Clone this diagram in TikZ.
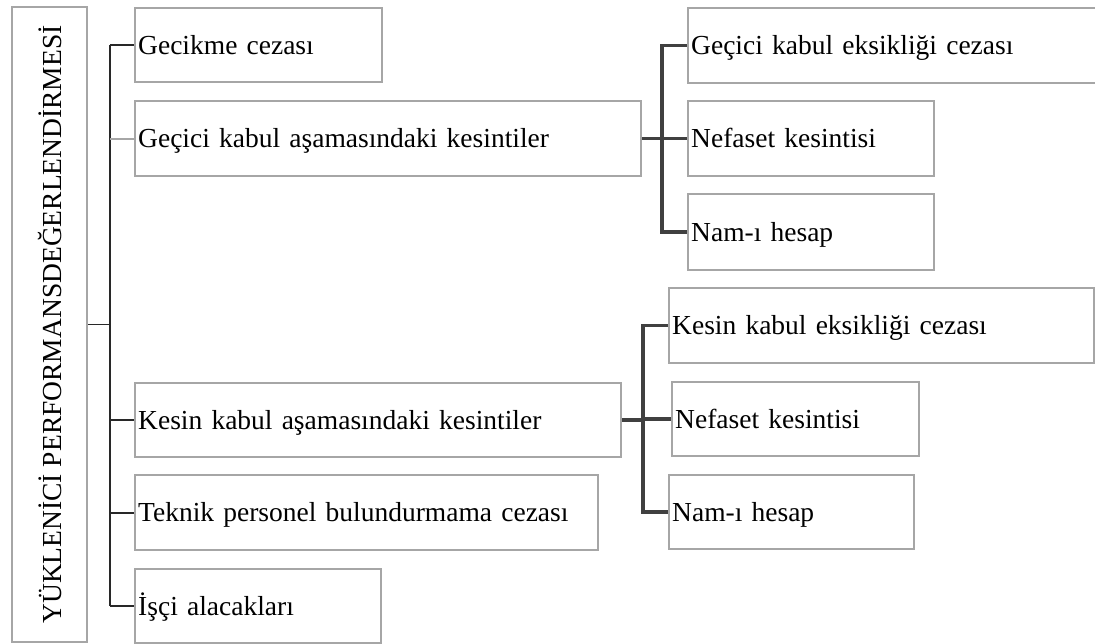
\documentclass[tikz,border=0pt]{standalone}
\usepackage{fontspec}
\setmainfont{Liberation Serif}
\definecolor{boxgray}{RGB}{166,166,166}
\definecolor{linedark}{RGB}{40,40,40}
\definecolor{treedark}{RGB}{64,64,64}
\begin{document}
\begin{tikzpicture}[x=1pt,y=-1pt,
  box/.style={draw=boxgray, line width=2.4pt, rectangle, anchor=north west,
    inner xsep=3pt, inner ysep=0pt, text height=18.5pt, text depth=0pt,
    align=left, font=\fontsize{27.5}{32}\selectfont},
  rootbox/.style={draw=boxgray, line width=2.4pt, rectangle, rotate=90,
    inner sep=0pt, font=\fontsize{27.5}{32}\selectfont},
  thinline/.style={draw=linedark, line width=1.6pt},
  lightline/.style={draw=boxgray, line width=1.8pt},
  thickline/.style={draw=treedark, line width=3.6pt}]
\path[use as bounding box] (0,0) rectangle (1095,644);
\clip (0,0) rectangle (1095,644);

\node[rootbox, minimum width=635, minimum height=75] (root) at (49.5,324.5)
  {YÜKLENİCİ PERFORMANSDEĞERLENDİRMESİ};

\node[box, minimum height=74, text width=241] (g1) at (134,7) {Gecikme cezası};
\node[box, minimum height=75, text width=500] (g2) at (134,100) {Geçici kabul aşamasındaki kesintiler};
\node[box, minimum height=74, text width=480] (g3) at (134,382) {Kesin kabul aşamasındaki kesintiler};
\node[box, minimum height=75, text width=457] (g4) at (134,474) {Teknik personel bulundurmama cezası};
\node[box, minimum height=74, text width=240] (g5) at (134,568) {İşçi alacakları};

\node[box, minimum height=75, text width=420] (a1) at (687,7) {Geçici kabul eksikliği cezası};
\node[box, minimum height=75, text width=240] (a2) at (687,100) {Nefaset kesintisi};
\node[box, minimum height=76, text width=240] (a3) at (687,193) {Nam-ı hesap};

\node[box, minimum height=75, text width=419] (b1) at (668,287) {Kesin kabul eksikliği cezası};
\node[box, minimum height=74, text width=241] (b2) at (671,381) {Nefaset kesintisi};
\node[box, minimum height=74, text width=239] (b3) at (668,474) {Nam-ı hesap};

% left tree
\coordinate (j1) at (110,0);
\draw[thinline] (root.south) -- (root.south -| j1);
\draw[thinline] (g1.west -| j1) -- (g5.west -| j1);
\draw[thinline] (g1.west -| j1) -- (g1.west);
\draw[lightline] (g2.west -| j1) -- (g2.west);
\draw[thinline] (g3.west -| j1) -- (g3.west);
\draw[thinline] (g4.west -| j1) -- (g4.west);
\draw[thinline] (g5.west -| j1) -- (g5.west);

% upper right tree
\coordinate (j2) at (662,0);
\draw[thickline] (g2.east) -- (a2.west);
\draw[thickline] (a1.west) -- (a1.west -| j2) -- (a3.west -| j2) -- (a3.west);

% lower right tree
\coordinate (j3) at (643,0);
\draw[thickline] (g3.east) -- (g3.east -| j3) |- (b2.west);
\draw[thickline] (b1.west) -- (b1.west -| j3) -- (b3.west -| j3) -- (b3.west);
\end{tikzpicture}
\end{document}
